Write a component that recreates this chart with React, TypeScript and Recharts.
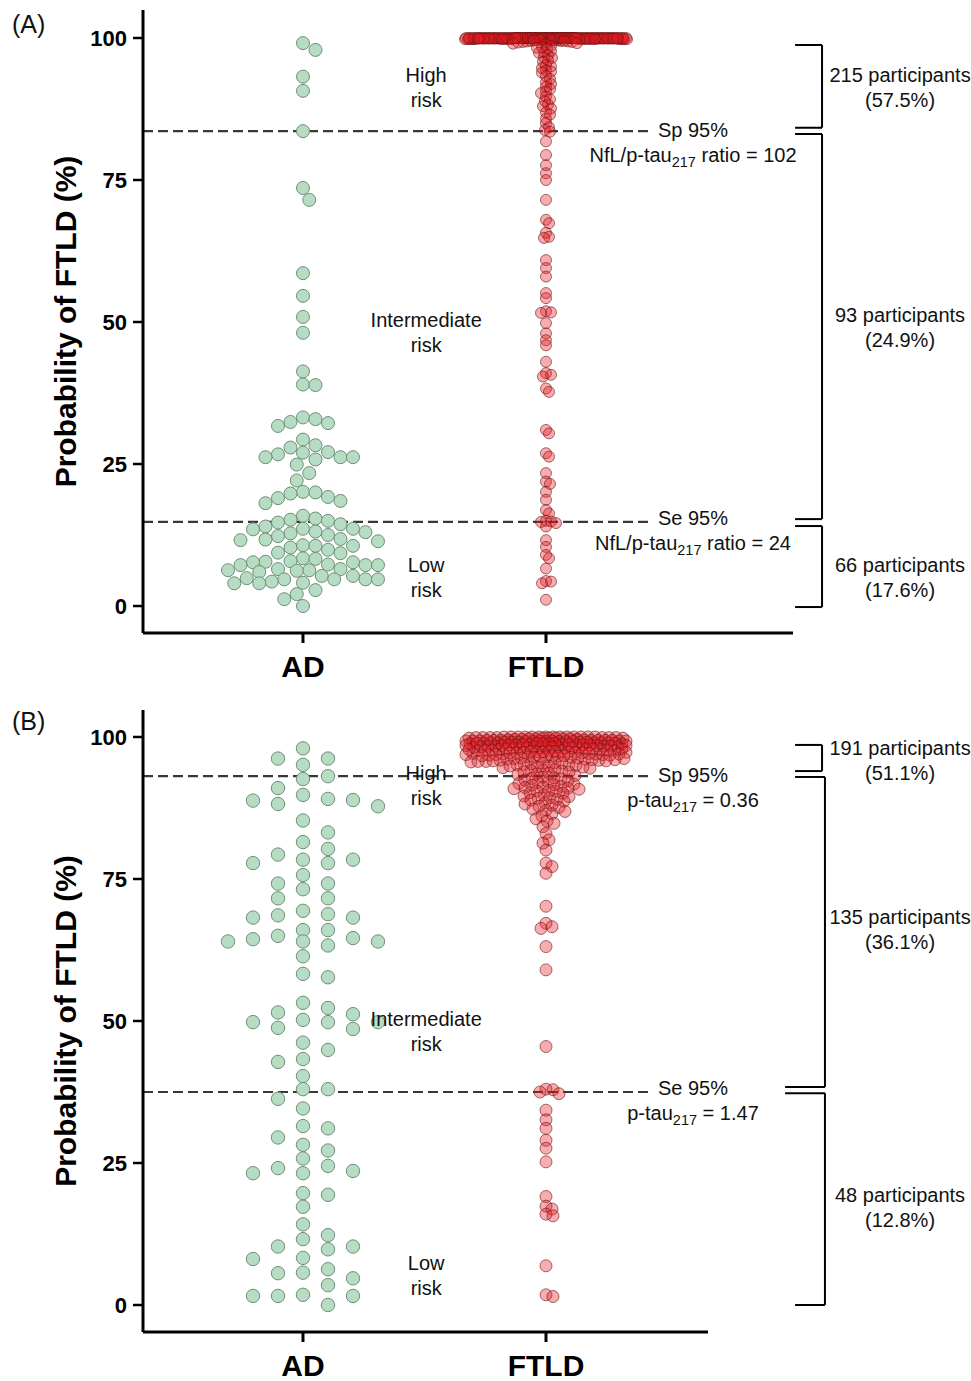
import { ScatterChart, Scatter, XAxis, YAxis, ReferenceLine, ReferenceDot } from "recharts";

const FONT = '"Liberation Sans", Arial, Helvetica, sans-serif';

// pixel size of one data unit on both panels (used only for the beeswarm layout)
const PX_PER_X = 243;
const PX_PER_Y = 5.68;

const CATEGORIES = ["AD", "FTLD"];
const CAT_TICKS = [1, 2];
const Y_TICKS = [0, 25, 50, 75, 100];

// ---------- panel A: NfL/p-tau217 ratio model ----------
const adA = [
  99.1, 97.9, 93.2, 90.7, 83.6, 73.6, 71.5, 58.6, 54.6, 50.9, 48.1, 41.3, 39.0, 38.9,
  33.2, 32.9, 32.4, 32.2, 31.7, 29.3, 28.3, 27.9, 27.1, 27.0, 26.7, 26.2, 26.2, 26.2,
  25.8, 24.9, 23.4, 22.1, 20.1, 20.0, 19.8, 19.2, 19.0, 18.5, 18.1, 15.9, 15.4, 15.2,
  15.0, 14.7, 14.4, 14.0, 13.6, 13.6, 13.5, 13.1, 13.0, 12.8, 12.5, 12.3, 11.8, 11.7,
  11.6, 11.4, 10.7, 10.6, 10.6, 10.3, 9.9, 9.4, 9.3, 8.4, 8.3, 7.9, 7.8, 7.7, 7.7, 7.3,
  7.2, 7.2, 7.2, 6.5, 6.5, 6.3, 6.3, 6.2, 6.0, 5.3, 5.3, 4.9, 4.7, 4.7, 4.7, 4.7, 4.3,
  4.1, 4.0, 4.0, 2.8, 2.1, 1.2, 0.0,
];

const ftldATop = [
  100, 100, 99.9, 100, 100, 99.8, 100, 100, 99.9, 100,
  100, 99.7, 100, 100, 99.9, 100, 99.8, 100, 100, 100,
  99.9, 100, 100, 99.6, 100, 100, 99.9, 100, 99.8, 100,
  100, 100, 99.9, 100, 99.7, 100, 100, 100, 99.9, 100,
  99.8, 100, 100, 99.9, 100, 100, 99.5, 100, 100, 99.9,
  100, 100, 99.8, 100, 99.9, 100, 100, 99.7, 100, 100,
  99.9, 100, 100, 100, 99.8, 100, 99.9, 100, 99.6, 100,
  100, 99.9, 100, 100, 99.7, 100, 100, 99.9, 100, 99.8,
  100, 100, 99.9, 99.4, 100, 100, 99.8, 100, 99.9, 100,
  99.9, 100, 100, 99.8, 100, 100, 99.9, 100, 99.7, 100,
  100, 99.8, 100, 99.9, 100, 99.3, 100, 100, 99.9, 100,
  100, 100, 99.9, 100, 99.8, 100, 99.6, 100, 100, 99.9,
  99.8, 100, 100, 99.9, 100, 100, 99.7, 100, 99.9, 100,
  100, 99.9, 100, 99.5, 100, 99.8, 100, 100, 99.9, 100,
  100, 100, 99.9, 100, 99.7, 100, 99.8, 100, 99.4, 100,
  99.9, 100, 99.8, 100, 100, 99.9, 100, 99.6, 100, 99.2,
  100, 99.9, 100, 99.8, 100, 99.3, 100, 99.9, 99.5, 99.1,
];

const ftldAColumn = [
  99.0, 98.9, 98.6, 98.4, 98.3, 98.1, 97.7, 97.5, 97.4, 97.0, 96.6, 96.5, 96.1, 95.8,
  95.2, 95.0, 94.7, 94.3, 94.1, 93.9, 93.3, 92.8, 92.2, 91.9, 91.4, 91.0, 90.6, 90.3,
  89.7, 89.2, 88.9, 88.3, 88.0, 87.6, 86.9, 86.5, 85.8, 85.0, 84.3,
];

const ftldALower = [
  83.8, 83.5, 81.8, 79.4, 77.6, 76.2, 75.0, 71.5, 68.0, 67.4, 65.7, 65.0, 64.8, 60.9,
  59.5, 58.0, 55.1, 54.2, 51.9, 51.7, 51.6, 49.8, 48.0, 46.8, 45.9, 43.0, 41.0, 40.7,
  40.4, 38.3, 37.7, 31.0, 30.4, 26.9, 26.3, 23.4, 21.9, 21.5, 20.1, 18.7, 16.9, 16.3,
  15.0, 14.9, 14.8, 14.6, 14.0, 11.6, 10.4, 9.0, 8.4, 6.6, 4.4, 4.3, 4.0, 1.1,
];

// ---------- panel B: p-tau217 model ----------
const adB = [
  98.0, 96.2, 96.2, 95.1, 93.1, 92.6, 91.0, 89.8, 89.1, 88.9, 88.8, 88.2, 87.8, 85.3,
  83.2, 81.5, 80.3, 79.3, 78.4, 78.4, 77.8, 77.8, 75.7, 74.2, 74.2, 73.2, 71.6, 71.6,
  69.4, 68.8, 68.6, 68.2, 68.2, 66.0, 66.0, 65.0, 64.6, 64.4, 64.0, 64.0, 64.0, 63.3,
  61.4, 58.3, 57.7, 53.2, 52.3, 51.5, 51.2, 50.2, 49.8, 49.8, 49.8, 48.8, 48.6, 46.2,
  44.9, 43.3, 42.8, 40.3, 38.0, 38.0, 36.3, 34.6, 31.5, 31.1, 29.5, 28.2, 27.2, 25.8,
  24.5, 24.1, 23.6, 23.2, 23.2, 19.7, 19.4, 17.3, 14.2, 12.3, 11.6, 10.3, 10.3, 9.8,
  8.3, 8.1, 6.3, 5.7, 5.6, 4.7, 3.5, 1.8, 1.6, 1.6, 1.6, 0.0,
];

const ftldBHigh = [
  100, 100, 99.9, 100, 99.8, 100, 99.9, 100, 99.7, 100, 99.8, 100,
  99.9, 100, 99.6, 100, 99.9, 99.8, 100, 99.7, 99.9, 100, 99.6, 99.8,
  100, 99.9, 99.5, 99.7, 100, 99.8, 99.6, 99.9, 99.5, 100, 99.7,
  99.4, 99.2, 99.0, 99.3, 99.4, 99.1, 99.3, 99.2, 99.4, 99.0,
  99.1, 99.3, 99.4, 99.2, 99.0, 99.3, 99.1, 99.4, 99.2, 99.0,
  99.3, 99.1, 99.4, 99.2, 99.3, 99.0, 99.1, 99.4, 99.2, 99.3,
  98.9, 98.7, 98.4, 98.8, 98.1, 98.6, 98.9, 98.3, 98.5, 98.0,
  98.8, 98.2, 98.6, 98.9, 98.4, 98.1, 98.7, 98.5, 98.3, 98.0,
  98.9, 98.6, 98.2, 98.8, 98.4, 98.7, 98.1, 98.5, 98.3, 98.9,
  98.0, 98.6, 98.8, 98.2, 98.4, 98.7, 98.5, 98.1, 98.3, 98.6,
  97.9, 97.6, 97.2, 97.8, 97.4, 97.0, 97.7, 97.3, 97.9, 97.5,
  97.1, 97.8, 97.4, 97.6, 97.0, 97.9, 97.2, 97.5, 97.7, 97.3,
  97.8, 97.1, 97.6, 97.4, 97.9, 97.2, 97.5, 97.0, 97.7, 97.3,
  96.9, 96.5, 96.1, 96.8, 96.3, 96.7, 96.0, 96.6, 96.2, 96.9, 96.4,
  96.8, 96.1, 96.5, 96.7, 96.3, 96.0, 96.6, 96.4, 96.9, 96.2, 96.5,
  95.9, 95.4, 95.7, 95.1, 95.8, 95.3, 95.6, 95.0, 95.9, 95.5, 95.2, 95.7, 95.4, 95.8, 95.1,
  94.9, 94.5, 94.2, 94.8, 94.0, 94.6, 94.3, 94.9, 94.1, 94.7,
  93.9, 93.5, 93.2, 93.8, 93.4, 93.6,
];

const ftldBMid = [
  92.9, 92.6, 92.3, 92.0, 92.7, 92.4, 92.1, 92.8,
  91.8, 91.5, 91.1, 91.7, 91.3, 91.0, 91.6, 91.2,
  90.8, 90.4, 90.1, 90.6, 90.2, 90.9, 90.5,
  89.8, 89.3, 89.0, 89.6, 89.2, 89.5,
  88.7, 88.2, 88.9, 88.4, 88.0,
  87.6, 87.1, 87.8, 87.3,
  86.5, 86.9, 86.1, 85.6, 85.2,
  84.8, 84.2, 83.0, 81.9, 81.3, 80.1, 77.8, 77.2, 76.0, 70.2, 67.2, 66.6, 66.3, 63.1,
  59.0, 45.5, 38.0, 37.9,
];

const ftldBLow = [37.5, 37.2, 34.3, 32.6, 31.1, 29.0, 27.6, 25.2, 19.1, 17.4, 16.9, 16.0, 15.7, 6.9, 1.8, 1.5];

// thresholds (probability %) and their labels
const SP_A = 83.6;
const SE_A = 14.8;
const SP_B = 93.1;
const SE_B = 37.5;

const COUNTS_A = [
  ["215 participants", "(57.5%)"],
  ["93 participants", "(24.9%)"],
  ["66 participants", "(17.6%)"],
];
const COUNTS_B = [
  ["191 participants", "(51.1%)"],
  ["135 participants", "(36.1%)"],
  ["48 participants", "(12.8%)"],
];

const AD_FILL = "#b6dcc3";
const AD_STROKE = "#6e8f78";
const FTLD_FILL = "rgba(232, 26, 34, 0.36)";
const FTLD_STROKE = "rgba(105, 20, 20, 0.6)";

// greedy beeswarm: place each dot at the offset closest to the centre that does not collide
function swarm(values: number[], lane: number, minDist: number, maxHalf: number): number[] {
  const order = values.map((_, i) => i).sort((a, b) => values[b] - values[a]);
  const cands: number[] = [0];
  for (let k = 1; k * lane <= maxHalf + 1e-6; k++) cands.push(k * lane, -k * lane);
  const placed: { x: number; y: number }[] = [];
  const out = new Array(values.length).fill(0);
  for (const i of order) {
    const y = values[i] * PX_PER_Y;
    const near = placed.filter((p) => Math.abs(p.y - y) < minDist);
    let best = 0;
    let bestGap = -1;
    for (const c of cands) {
      let gap = Infinity;
      for (const p of near) {
        const d = Math.hypot(c - p.x, y - p.y);
        if (d < gap) gap = d;
      }
      if (gap >= minDist) {
        best = c;
        break;
      }
      if (gap > bestGap + 0.01) {
        bestGap = gap;
        best = c;
      }
    }
    placed.push({ x: best, y });
    out[i] = best;
  }
  return out;
}

function toPoints(values: number[], cat: number, lane: number, minDist: number, maxHalf: number) {
  const off = swarm(values, lane, minDist, maxHalf);
  return values.map((v, i) => ({ x: cat + off[i] / PX_PER_X, y: v }));
}

type TextLine = { pre: string; sub?: string; post?: string };

const renderLines = (lines: TextLine[], offsets: number[], size = 20) => (props: any) => {
  const vb = props.viewBox ?? { x: 0, y: 0, width: 0, height: 0 };
  const cx = vb.x + (vb.width ?? 0) / 2;
  const cy = vb.y + (vb.height ?? 0) / 2;
  return (
    <text textAnchor="middle" fontFamily={FONT} fontSize={size} fill="#111">
      {lines.map((l, i) => (
        <tspan key={i} x={cx} y={cy + offsets[i] + size * 0.35}>
          {l.pre}
          {l.sub ? (
            <tspan dy={5} fontSize={14.5}>
              {l.sub}
            </tspan>
          ) : null}
          {l.post ? <tspan dy={l.sub ? -5 : 0}>{l.post}</tspan> : null}
        </tspan>
      ))}
    </text>
  );
};

const yLabel = (props: any) => {
  const vb = props.viewBox ?? { x: 83, y: 10, width: 60, height: 623 };
  const x = vb.x - 18;
  const y = vb.y + vb.height / 2;
  return (
    <text
      x={x}
      y={y}
      transform={`rotate(-90, ${x}, ${y})`}
      textAnchor="middle"
      dominantBaseline="central"
      fontFamily={FONT}
      fontSize={30}
      fontWeight={700}
      fill="#000"
    >
      Probability of FTLD (%)
    </text>
  );
};

const dot = (r: number, fill: string, stroke: string) => (p: any) =>
  <circle cx={p.cx} cy={p.cy} r={r} fill={fill} stroke={stroke} strokeWidth={1} />;

type Bracket = { top: number; bottom: number; x: number; topFrom: number; bottomFrom: number };

type PanelCfg = {
  height: number;
  marginRight: number;
  xAxisHeight: number;
  xMax: number;
  yMax: number;
  ad: { x: number; y: number }[];
  ftld: { x: number; y: number }[];
  adR: number;
  ftldR: number;
  sp: number;
  se: number;
  spLine: TextLine;
  seLine: TextLine;
  risk: [number, number, number];
  brackets: Bracket[];
  counts: string[][];
  countY: number[];
};

const X_MIN = 0.3416;
const Y_MIN = -4.75;
const DASH_END = 2.42;
const THRESH_X = 2.605;
const RISK_X = 1.507;
const COUNT_X = 3.457;

function Panel({ cfg }: { cfg: PanelCfg }) {
  const dash = { stroke: "#383838", strokeWidth: 2.2, strokeDasharray: "10 5" };
  const br = { stroke: "#000", strokeWidth: 2 };
  return (
    <ScatterChart width={971} height={cfg.height} margin={{ top: 10, right: cfg.marginRight, bottom: 7, left: 83 }}>
      <XAxis
        type="number"
        dataKey="x"
        domain={[X_MIN, cfg.xMax]}
        allowDataOverflow
        ticks={CAT_TICKS}
        tickFormatter={(v: number) => CATEGORIES[v - 1]}
        axisLine={{ stroke: "#000", strokeWidth: 3 }}
        tickLine={{ stroke: "#000", strokeWidth: 3 }}
        tickSize={10}
        tickMargin={13}
        height={cfg.xAxisHeight}
        tick={{ fontSize: 30, fontWeight: 700, fill: "#000", fontFamily: FONT }}
      />
      <YAxis
        type="number"
        dataKey="y"
        domain={[Y_MIN, cfg.yMax]}
        allowDataOverflow
        ticks={Y_TICKS}
        width={60}
        axisLine={{ stroke: "#000", strokeWidth: 3 }}
        tickLine={{ stroke: "#000", strokeWidth: 2.5 }}
        tickSize={10}
        tickMargin={6}
        tick={{ fontSize: 22, fontWeight: 700, fill: "#000", fontFamily: FONT }}
        label={yLabel}
      />
      <Scatter data={cfg.ad} isAnimationActive={false} shape={dot(cfg.adR, AD_FILL, AD_STROKE)} />
      <Scatter data={cfg.ftld} isAnimationActive={false} shape={dot(cfg.ftldR, FTLD_FILL, FTLD_STROKE)} />

      <ReferenceLine segment={[{ x: X_MIN, y: cfg.sp }, { x: DASH_END, y: cfg.sp }]} ifOverflow="visible" {...dash} />
      <ReferenceLine segment={[{ x: X_MIN, y: cfg.se }, { x: DASH_END, y: cfg.se }]} ifOverflow="visible" {...dash} />

      {cfg.brackets.map((b, i) => [
        <ReferenceLine key={`v${i}`} segment={[{ x: b.x, y: b.top }, { x: b.x, y: b.bottom }]} ifOverflow="visible" {...br} />,
        <ReferenceLine key={`t${i}`} segment={[{ x: b.topFrom, y: b.top }, { x: b.x, y: b.top }]} ifOverflow="visible" {...br} />,
        <ReferenceLine key={`b${i}`} segment={[{ x: b.bottomFrom, y: b.bottom }, { x: b.x, y: b.bottom }]} ifOverflow="visible" {...br} />,
      ])}

      <ReferenceDot x={RISK_X} y={cfg.risk[0]} r={0} fill="none" stroke="none" ifOverflow="visible"
        label={renderLines([{ pre: "High" }, { pre: "risk" }], [-12.5, 12.5])} />
      <ReferenceDot x={RISK_X} y={cfg.risk[1]} r={0} fill="none" stroke="none" ifOverflow="visible"
        label={renderLines([{ pre: "Intermediate" }, { pre: "risk" }], [-12.5, 12.5])} />
      <ReferenceDot x={RISK_X} y={cfg.risk[2]} r={0} fill="none" stroke="none" ifOverflow="visible"
        label={renderLines([{ pre: "Low" }, { pre: "risk" }], [-12.5, 12.5])} />

      <ReferenceDot x={THRESH_X} y={cfg.sp} r={0} fill="none" stroke="none" ifOverflow="visible"
        label={renderLines([{ pre: "Sp 95%" }, cfg.spLine], [-1, 24])} />
      <ReferenceDot x={THRESH_X} y={cfg.se} r={0} fill="none" stroke="none" ifOverflow="visible"
        label={renderLines([{ pre: "Se 95%" }, cfg.seLine], [-4, 21])} />

      {cfg.counts.map((c, i) => (
        <ReferenceDot key={`c${i}`} x={COUNT_X} y={cfg.countY[i]} r={0} fill="none" stroke="none" ifOverflow="visible"
          label={renderLines([{ pre: c[0] }, { pre: c[1] }], [-12.5, 12.5])} />
      ))}
    </ScatterChart>
  );
}

const panelA: PanelCfg = {
  height: 700,
  marginRight: 178,
  xAxisHeight: 60,
  xMax: 3.0165,
  yMax: 104.93,
  ad: toPoints(adA, 1, 6.25, 12.5, 80),
  ftld: toPoints([...ftldATop, ...ftldAColumn, ...ftldALower], 2, 1, 4.5, 81),
  adR: 6.5,
  ftldR: 5.5,
  sp: SP_A,
  se: SE_A,
  spLine: { pre: "NfL/p-tau", sub: "217", post: " ratio = 102" },
  seLine: { pre: "NfL/p-tau", sub: "217", post: " ratio = 24" },
  risk: [91.3, 48.2, 5.0],
  brackets: [
    { top: 98.77, bottom: 84.2, x: 3.136, topFrom: 3.025, bottomFrom: 3.025 },
    { top: 83.1, bottom: 15.3, x: 3.136, topFrom: 3.025, bottomFrom: 3.025 },
    { top: 14.08, bottom: -0.18, x: 3.136, topFrom: 3.025, bottomFrom: 3.025 },
  ],
  counts: COUNTS_A,
  countY: [91.3, 49.0, 5.0],
};

const panelB: PanelCfg = {
  height: 681,
  marginRight: 263,
  xAxisHeight: 42,
  xMax: 2.6667,
  yMax: 104.75,
  ad: toPoints(adB, 1, 25, 12.5, 76),
  ftld: toPoints([...ftldBHigh, ...ftldBMid, ...ftldBLow], 2, 1, 6.6, 80),
  adR: 6.7,
  ftldR: 6,
  sp: SP_B,
  se: SE_B,
  spLine: { pre: "p-tau", sub: "217", post: " = 0.36" },
  seLine: { pre: "p-tau", sub: "217", post: " = 1.47" },
  risk: [91.4, 48.2, 5.2],
  brackets: [
    { top: 98.6, bottom: 94.0, x: 3.136, topFrom: 3.025, bottomFrom: 3.025 },
    { top: 92.96, bottom: 38.4, x: 3.148, topFrom: 3.025, bottomFrom: 2.984 },
    { top: 37.3, bottom: 0, x: 3.148, topFrom: 2.984, bottomFrom: 3.025 },
  ],
  counts: COUNTS_B,
  countY: [95.9, 66.1, 17.2],
};

export default function App() {
  const tag = { position: "absolute" as const, left: 12, fontFamily: FONT, fontSize: 25, lineHeight: "26px", color: "#111" };
  return (
    <div style={{ position: "absolute", left: 0, top: 0, width: 971, height: 1381, background: "#fff" }}>
      <div style={{ position: "absolute", left: 0, top: 0 }}>
        <Panel cfg={panelA} />
      </div>
      <div style={{ position: "absolute", left: 0, top: 700 }}>
        <Panel cfg={panelB} />
      </div>
      <div style={{ ...tag, top: 11 }}>(A)</div>
      <div style={{ ...tag, top: 708 }}>(B)</div>
    </div>
  );
}
